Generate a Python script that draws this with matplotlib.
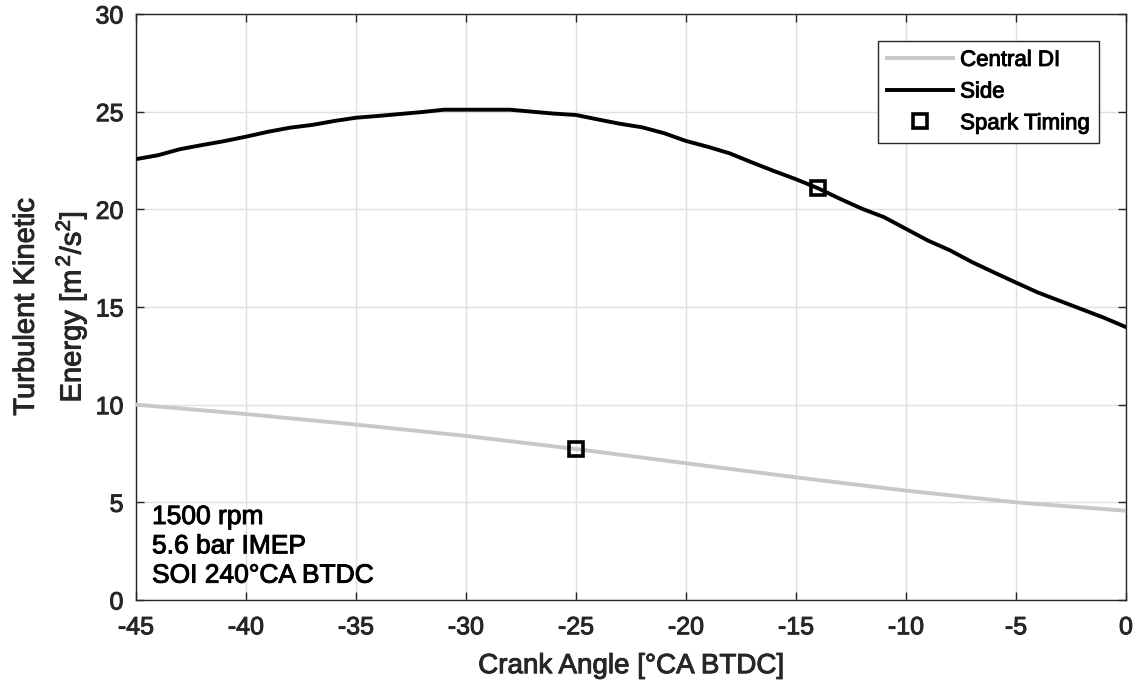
import matplotlib
matplotlib.use("Agg")
import matplotlib.pyplot as plt
import matplotlib.patheffects as pe

plt.rcParams['font.family'] = ['Liberation Sans', 'DejaVu Sans']
plt.rcParams['mathtext.fontset'] = 'custom'
plt.rcParams['mathtext.rm'] = 'Liberation Sans'
plt.rcParams['mathtext.it'] = 'Liberation Sans'
plt.rcParams['mathtext.bf'] = 'Liberation Sans:bold'
plt.rcParams['axes.unicode_minus'] = False

# Data
side_ca = [-45, -44, -43, -42, -41, -40, -39, -38, -37, -36, -35, -34, -33, -32, -31,
           -30, -29, -28, -27, -26, -25, -24, -23, -22, -21, -20, -19, -18, -17, -16,
           -15, -14, -13, -12, -11, -10, -9, -8, -7, -6, -5, -4, -3, -2, -1, 0]
side_tke = [22.57, 22.77, 23.08, 23.29, 23.49, 23.72, 23.97, 24.18, 24.32, 24.52, 24.69,
            24.78, 24.88, 24.98, 25.10, 25.10, 25.10, 25.10, 25.00, 24.90, 24.83, 24.60,
            24.38, 24.20, 23.90, 23.50, 23.20, 22.86, 22.40, 21.96, 21.54, 21.08, 20.54,
            20.03, 19.60, 19.00, 18.40, 17.90, 17.30, 16.77, 16.25, 15.74, 15.31, 14.88,
            14.45, 13.97]
central_ca = [-45, -40, -35, -30, -25, -20, -15, -10, -5, 0]
central_tke = [10.0, 9.52, 8.98, 8.40, 7.73, 7.00, 6.28, 5.60, 5.00, 4.57]
spark_ca = [-25, -14]
spark_tke = [7.73, 21.08]

xticks = [-45, -40, -35, -30, -25, -20, -15, -10, -5, 0]
yticks = [0, 5, 10, 15, 20, 25, 30]

TXT = '#262626'


def heavy(color):
    return [pe.withStroke(linewidth=0.7, foreground=color)]


fig = plt.figure(figsize=(11.37, 6.89), dpi=100)
ax = fig.add_axes([136/1137, 89/689, 990/1137, 586/689])

ax.plot(central_ca, central_tke, color='#c8c8c8', lw=2.8, label='Central DI', zorder=3)
ax.plot(side_ca, side_tke, color='black', lw=2.8, label='Side', zorder=3)
ax.plot(spark_ca, spark_tke, ls='none', marker='s', ms=10, mfc='none', mec='black',
        mew=2.6, label='Spark Timing', zorder=4)

ax.set_xlim(-45, 0)
ax.set_ylim(0, 30)
ax.set_xticks(xticks)
ax.set_yticks(yticks)
ax.grid(True, color='#e0e0e0', lw=1.0, zorder=0)
ax.set_axisbelow(True)
ax.tick_params(direction='in', length=6, width=1.0, top=True, right=True,
               labelsize=18, colors=TXT)
ax.tick_params(axis='y', pad=9)
ax.tick_params(axis='x', pad=11)
for s in ax.spines.values():
    s.set_color(TXT)
    s.set_linewidth(1.0)
for lab in ax.get_xticklabels() + ax.get_yticklabels():
    lab.set_path_effects(heavy(TXT))

xl = ax.set_xlabel('Crank Angle [°CA BTDC]', fontsize=20, color=TXT, labelpad=10)
yl = ax.set_ylabel('Turbulent Kinetic\nEnergy [m$^{\\,2}$/s$^{2}$]', fontsize=21,
                   color=TXT, labelpad=5, linespacing=1.5)
xl.set_path_effects(heavy(TXT))
yl.set_path_effects(heavy(TXT))

leg = ax.legend(loc='upper right', bbox_to_anchor=(1 - 27/990, 1 - 27/586),
                fontsize=16, frameon=True, fancybox=False, edgecolor=TXT,
                framealpha=1, handlelength=3.0, borderpad=0.4, labelspacing=0.48,
                handletextpad=0.3, borderaxespad=0)
leg.get_frame().set_linewidth(1.0)
for t in leg.get_texts():
    t.set_path_effects(heavy('black'))

ann = ax.text(16/990, 95/586, '1500 rpm\n5.6 bar IMEP\nSOI 240°CA BTDC', transform=ax.transAxes,
              ha='left', va='top', fontsize=19, color='black', linespacing=1.28)
ann.set_path_effects(heavy('black'))

fig.savefig('out.png', dpi=100)
